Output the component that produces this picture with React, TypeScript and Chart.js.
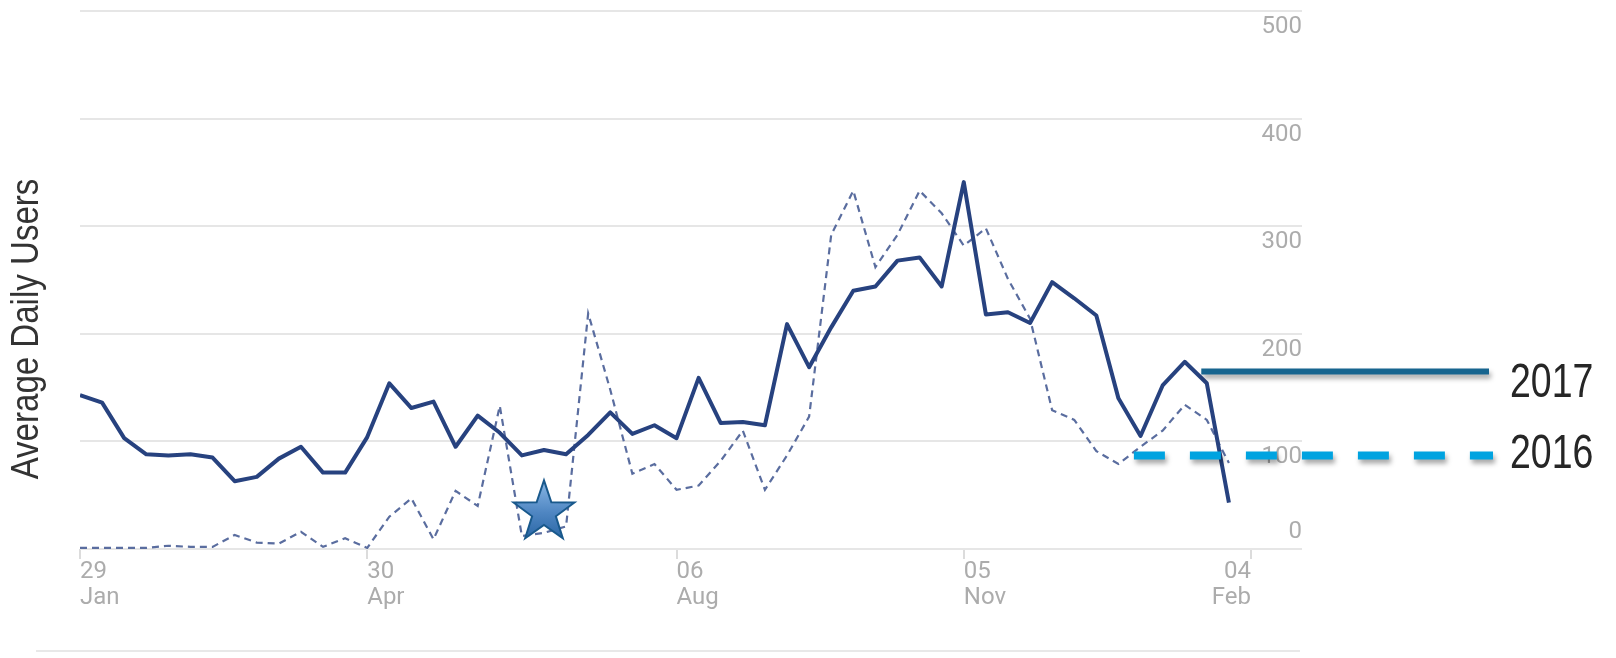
import React, { useEffect, useRef } from "react";
import { Chart, registerables } from "chart.js";

Chart.register(...registerables);

// ---- data ----
const SERIES_2017 = [
  143, 136, 103, 88, 87, 88, 85, 63, 67, 84,
  95, 71, 71, 104, 154, 131, 137, 95, 124, 108,
  87, 92, 88, 106, 127, 107, 115, 103, 159, 117,
  118, 115, 209, 169, 206, 240, 244, 268, 271, 244,
  341, 218, 220, 210, 248, 233, 217, 140, 105, 152,
  174, 154, 43,
];
const SERIES_2016 = [
  1, 1, 1, 1, 3, 2, 2, 13, 6, 5,
  16, 2, 10, 1, 30, 47, 9, 54, 40, 133,
  12, 15, 21, 219, 148, 70, 79, 55, 59, 82,
  110, 55, 87, 123, 292, 333, 262, 292, 333, 312,
  282, 298, 251, 214, 129, 120, 91, 79, 95, 110,
  134, 120, 80,
];
const X_TICK_INDEX = [0, 13, 27, 40, 53];
const X_TICK_DAY = ["29", "30", "06", "05", "04"];
const X_TICK_MONTH = ["Jan", "Apr", "Aug", "Nov", "Feb"];
const Y_TICKS = [0, 100, 200, 300, 400, 500];
const SERIES_NAMES = ["2017", "2016"];
const Y_TITLE = "Average Daily Users";
// annotation anchors (week index, value)
const LEGEND_2017_ANCHOR = [50.75, 165];
const LEGEND_2016_ANCHOR = [47.7, 87];
const STAR_ANCHOR = [21, 34];

const TICK_FONT = { family: "Roboto, 'Noto Sans', sans-serif", size: 24 };
const TICK_COLOR = "#acacac";
const LABEL_FAMILY = "'Liberation Sans', Arial, sans-serif";

function drawStar(ctx: CanvasRenderingContext2D, cx: number, cy: number, R: number, r: number) {
  ctx.save();
  ctx.beginPath();
  for (let k = 0; k < 10; k++) {
    const rad = k % 2 === 0 ? R : r;
    const a = -Math.PI / 2 + (k * Math.PI) / 5;
    const px = cx + rad * Math.cos(a);
    const py = cy + rad * Math.sin(a);
    if (k === 0) ctx.moveTo(px, py);
    else ctx.lineTo(px, py);
  }
  ctx.closePath();
  const g = ctx.createLinearGradient(cx, cy - R, cx, cy + R);
  g.addColorStop(0, "#8ab8e6");
  g.addColorStop(0.5, "#4f86c2");
  g.addColorStop(1, "#22609f");
  ctx.fillStyle = g;
  ctx.fill();
  ctx.lineWidth = 2;
  ctx.strokeStyle = "#19598c";
  ctx.lineJoin = "miter";
  ctx.stroke();
  ctx.restore();
}

function condensedText(
  ctx: CanvasRenderingContext2D,
  text: string,
  x: number,
  y: number,
  squeeze: number
) {
  ctx.save();
  ctx.translate(x, y);
  ctx.scale(squeeze, 1);
  ctx.fillText(text, 0, 0);
  ctx.restore();
}

const lastIdx = X_TICK_INDEX.length - 1;

const annotate = {
  id: "annotate",
  afterDatasetsDraw(chart: any) {
    const { ctx, scales } = chart;
    const x = scales.x;
    const y = scales.y;
    const lineEnd = 1489;
    const textX = 1510;

    // last x tick label, right-aligned to its tick, same style as the axis labels
    const items = x.getLabelItems(chart.chartArea);
    if (items && items.length && items[0].font) {
      const it = items[0];
      const o = it.options || {};
      const tr = o.translation || [0, x.top + 10];
      ctx.save();
      ctx.font = it.font.string;
      ctx.fillStyle = o.color || TICK_COLOR;
      ctx.textAlign = "right";
      ctx.textBaseline = o.textBaseline || "middle";
      const lines = [X_TICK_DAY[lastIdx], X_TICK_MONTH[lastIdx]];
      const px = x.getPixelForValue(X_TICK_INDEX[lastIdx]);
      lines.forEach((ln, j) => {
        ctx.fillText(ln, px, tr[1] + (it.textOffset || 0) + j * it.font.lineHeight);
      });
      ctx.restore();
    }

    // star
    drawStar(ctx, x.getPixelForValue(STAR_ANCHOR[0]), y.getPixelForValue(STAR_ANCHOR[1]), 32, 12.5);

    // legend 2017 (solid)
    const y17 = y.getPixelForValue(LEGEND_2017_ANCHOR[1]);
    ctx.save();
    ctx.shadowColor = "rgba(0,0,0,0.35)";
    ctx.shadowBlur = 5;
    ctx.shadowOffsetX = 2;
    ctx.shadowOffsetY = 4;
    ctx.strokeStyle = "#17658f";
    ctx.lineWidth = 6;
    ctx.beginPath();
    ctx.moveTo(x.getPixelForValue(LEGEND_2017_ANCHOR[0]), y17);
    ctx.lineTo(lineEnd, y17);
    ctx.stroke();

    // legend 2016 (dashed)
    const y16 = y.getPixelForValue(LEGEND_2016_ANCHOR[1]);
    ctx.strokeStyle = "#00a3e0";
    ctx.lineWidth = 8;
    ctx.setLineDash([31, 25]);
    ctx.beginPath();
    ctx.moveTo(x.getPixelForValue(LEGEND_2016_ANCHOR[0]), y16);
    ctx.lineTo(lineEnd + 4, y16);
    ctx.stroke();
    ctx.restore();

    // legend text
    ctx.save();
    ctx.fillStyle = "#262626";
    ctx.font = `48px ${LABEL_FAMILY}`;
    ctx.textAlign = "left";
    ctx.textBaseline = "middle";
    condensedText(ctx, SERIES_NAMES[0], textX, y17 + 12, 0.78);
    condensedText(ctx, SERIES_NAMES[1], textX, y16 - 1, 0.78);
    ctx.restore();

    // y title
    ctx.save();
    ctx.translate(28, 329);
    ctx.rotate(-Math.PI / 2);
    ctx.fillStyle = "#333333";
    ctx.font = `38px ${LABEL_FAMILY}`;
    ctx.textAlign = "center";
    ctx.textBaseline = "middle";
    condensedText(ctx, Y_TITLE, 0, 0, 0.87);
    ctx.restore();

    // bottom separator
    ctx.save();
    ctx.strokeStyle = "#e8e8e8";
    ctx.lineWidth = 2;
    ctx.beginPath();
    ctx.moveTo(36, 651);
    ctx.lineTo(1300, 651);
    ctx.stroke();
    ctx.restore();
  },
};

export default function App() {
  const ref = useRef<HTMLCanvasElement>(null);
  useEffect(() => {
    if (!ref.current) return;
    const chart = new Chart(ref.current, {
      type: "line",
      data: {
        labels: SERIES_2017.map((_, i) => i),
        datasets: [
          {
            label: SERIES_NAMES[0],
            data: SERIES_2017,
            borderColor: "#27427f",
            borderWidth: 4,
            pointRadius: 0,
            tension: 0,
            borderJoinStyle: "round",
            fill: false,
            yAxisID: "y",
            xAxisID: "x",
          },
          {
            label: SERIES_NAMES[1],
            data: SERIES_2016,
            borderColor: "#5a6d9f",
            borderWidth: 2.2,
            borderDash: [7, 5],
            pointRadius: 0,
            tension: 0,
            fill: false,
            yAxisID: "y",
            xAxisID: "x",
          },
        ],
      },
      options: {
        animation: false,
        responsive: true,
        maintainAspectRatio: false,
        layout: { padding: { left: 80, right: 314, top: 11, bottom: 49 } },
        plugins: { legend: { display: false }, tooltip: { enabled: false } },
        scales: {
          x: {
            type: "linear",
            position: "bottom",
            min: X_TICK_INDEX[0],
            max: X_TICK_INDEX[lastIdx],
            afterBuildTicks: (s: any) => {
              s.ticks = X_TICK_INDEX.map((v) => ({ value: v }));
            },
            ticks: {
              autoSkip: false,
              maxRotation: 0,
              align: "start",
              padding: 0,
              color: TICK_COLOR,
              font: { ...TICK_FONT, lineHeight: 1.08 },
              callback: (_v: any, i: number) =>
                i === lastIdx ? "" : [X_TICK_DAY[i], X_TICK_MONTH[i]],
            },
            grid: { drawOnChartArea: false, drawTicks: true, tickLength: 10, color: "#dcdcdc", lineWidth: 2 },
            border: { display: false },
            afterFit: (s: any) => {
              s.height = 60;
              s.paddingLeft = 0;
              s.paddingRight = 0;
            },
          },
          y: {
            type: "linear",
            position: "right",
            weight: 1,
            min: Y_TICKS[0],
            max: Y_TICKS[Y_TICKS.length - 1],
            afterBuildTicks: (s: any) => {
              s.ticks = Y_TICKS.map((v) => ({ value: v }));
            },
            ticks: { display: false },
            grid: { color: "#e6e6e6", lineWidth: 2, drawTicks: true, tickLength: 51 },
            border: { display: false },
            afterFit: (s: any) => {
              s.width = 51;
              s.paddingTop = 0;
              s.paddingBottom = 0;
            },
          },
          yLabels: {
            type: "linear",
            position: "right",
            weight: 2,
            min: Y_TICKS[0],
            max: Y_TICKS[Y_TICKS.length - 1],
            afterBuildTicks: (s: any) => {
              s.ticks = Y_TICKS.filter((v) => v !== 0).map((v) => ({ value: v }));
            },
            ticks: { mirror: true, padding: 0, labelOffset: 16, color: TICK_COLOR, font: TICK_FONT },
            grid: { display: false, drawTicks: false },
            border: { display: false },
            afterFit: (s: any) => {
              s.width = 0;
              s.paddingTop = 0;
              s.paddingBottom = 0;
            },
          },
          yZero: {
            type: "linear",
            position: "right",
            weight: 3,
            min: Y_TICKS[0],
            max: Y_TICKS[Y_TICKS.length - 1],
            afterBuildTicks: (s: any) => {
              s.ticks = [{ value: Y_TICKS[0] }];
            },
            ticks: { mirror: true, padding: 0, labelOffset: -17, color: TICK_COLOR, font: TICK_FONT },
            grid: { display: false, drawTicks: false },
            border: { display: false },
            afterFit: (s: any) => {
              s.width = 0;
              s.paddingTop = 0;
              s.paddingBottom = 0;
            },
          },
        },
      } as any,
      plugins: [annotate],
    });
    return () => chart.destroy();
  }, []);

  return (
    <div
      style={{
        position: "fixed",
        left: 0,
        top: 0,
        width: 1616,
        height: 658,
        background: "#ffffff",
      }}
    >
      <canvas ref={ref} />
    </div>
  );
}
